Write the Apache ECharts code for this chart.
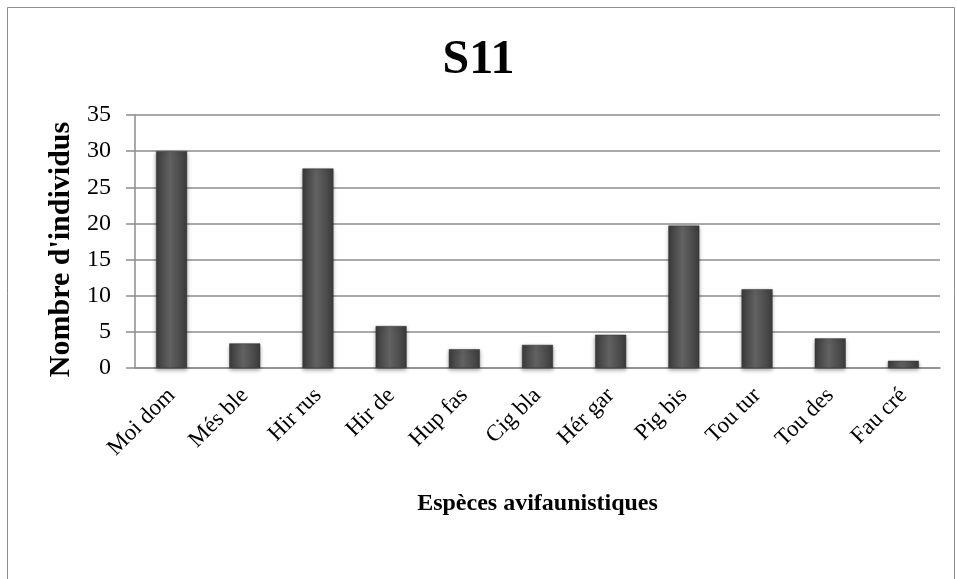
<!DOCTYPE html>
<html>
<head>
<meta charset="utf-8">
<script src="https://cdn.jsdelivr.net/npm/echarts@6/dist/echarts.min.js"></script>
<style>
    html, body { margin: 0; padding: 0; background: #fff; }
    #main { width: 957px; height: 579px; }
</style>
</head>
<body>
<div id="main"></div>
<script>
var categories = ['Moi dom', 'Més ble', 'Hir rus', 'Hir de', 'Hup fas', 'Cig bla', 'Hér gar', 'Pig bis', 'Tou tur', 'Tou des', 'Fau cré'];
var counts = [30, 3.4, 27.6, 5.8, 2.6, 3.2, 4.6, 19.7, 10.9, 4.1, 1.0];
var yTicks = [0, 5, 10, 15, 20, 25, 30, 35];

var font = '"Liberation Serif", "Times New Roman", serif';
var myChart = echarts.init(document.getElementById('main'));

// barre grise avec reflet au centre
var barColor = new echarts.graphic.LinearGradient(0, 0, 1, 0, [
    { offset: 0, color: '#3a3a3a' },
    { offset: 0.45, color: '#626262' },
    { offset: 1, color: '#3c3c3c' }
]);

var option = {
    animation: false,
    backgroundColor: '#fff',
    title: {
        text: 'S11',
        left: 'center',
        top: 32,
        textStyle: { fontFamily: font, fontSize: 48, fontWeight: 'bold', color: '#000' }
    },
    graphic: [{
        type: 'rect',
        shape: { x: 7.5, y: 7.5, width: 947, height: 600 },
        style: { fill: 'none', stroke: '#8c8c8c', lineWidth: 1 }
    }],
    grid: { left: 135, right: 17, top: 115, bottom: 211 },
    xAxis: {
        type: 'category',
        data: categories,
        name: 'Espèces avifaunistiques',
        nameLocation: 'middle',
        nameGap: 124,
        nameTextStyle: { fontFamily: font, fontSize: 24, fontWeight: 'bold', color: '#000' },
        axisLine: { lineStyle: { color: '#8c8c8c', width: 1.5 } },
        axisTick: { show: false },
        axisLabel: { rotate: 45, fontFamily: font, fontSize: 23, color: '#000', margin: 24, interval: 0 }
    },
    yAxis: {
        type: 'value',
        min: 0,
        max: 35,
        interval: 5,
        name: "Nombre d'individus",
        nameLocation: 'middle',
        nameGap: 58,
        nameTextStyle: { fontFamily: font, fontSize: 30, fontWeight: 'bold', color: '#000', padding: [0, 16, 0, 0] },
        axisLine: { show: true, lineStyle: { color: '#8c8c8c', width: 1.5 } },
        axisTick: { show: true, length: 9, lineStyle: { color: '#8c8c8c', width: 1.5 } },
        axisLabel: {
            fontFamily: font, fontSize: 24, color: '#000', margin: 24,
            formatter: function (v) { return yTicks.indexOf(v) >= 0 ? String(v) : ''; }
        },
        splitLine: { lineStyle: { color: '#8c8c8c', width: 1.5 } }
    },
    series: [{
        type: 'bar',
        data: counts,
        barWidth: 31,
        itemStyle: {
            color: barColor,
            borderColor: '#333',
            borderWidth: 0.5,
            shadowColor: 'rgba(0,0,0,0.35)',
            shadowBlur: 4,
            shadowOffsetY: 2
        }
    }]
};

myChart.setOption(option);
</script>
</body>
</html>
